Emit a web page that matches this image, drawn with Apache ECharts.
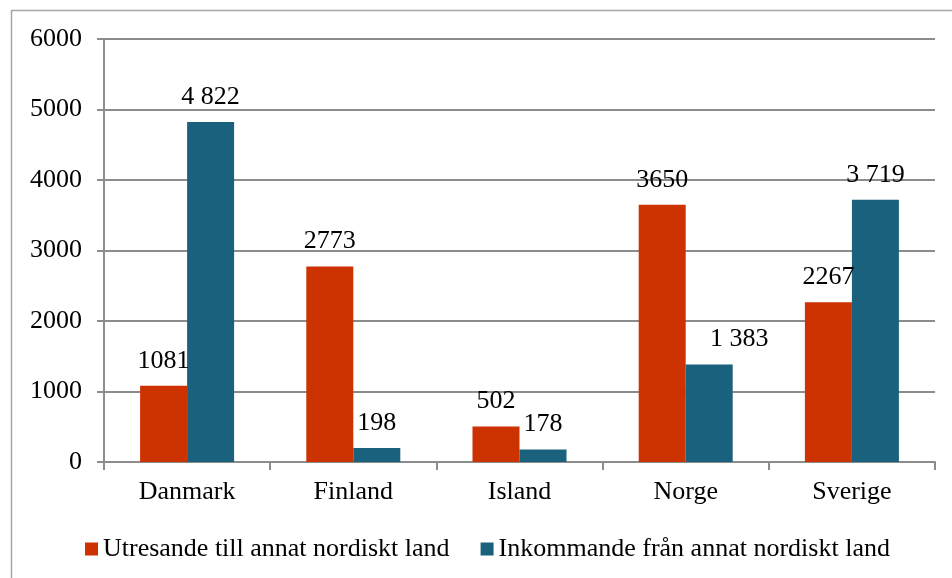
<!DOCTYPE html>
<html>
<head>
<meta charset="utf-8">
<script src="https://cdn.jsdelivr.net/npm/echarts@6/dist/echarts.min.js"></script>
<style>html,body{margin:0;padding:0;background:#fff}#c{width:952px;height:578px}</style>
</head>
<body>
<div id="c"></div>
<script>
const categories = ['Danmark', 'Finland', 'Island', 'Norge', 'Sverige'];
const seriesNames = ['Utresande till annat nordiskt land', 'Inkommande från annat nordiskt land'];
const utresande = [1081, 2773, 502, 3650, 2267];
const inkommande = [4822, 198, 178, 1383, 3719];
const yTicks = { min: 0, max: 6000, interval: 1000 };

const FONT = "'Liberation Serif', 'Times New Roman', serif";
const fmtSpace = v => { const s = String(v); return s.length > 3 ? s.slice(0, s.length - 3) + ' ' + s.slice(-3) : s; };

const chart = echarts.init(document.getElementById('c'), null, { renderer: 'canvas' });
chart.setOption({
  backgroundColor: '#fff',
  animation: false,
  graphic: [{
    type: 'rect', left: 9, top: 8, shape: { x: 0, y: 0, width: 960, height: 600 },
    style: { fill: 'none', stroke: '#a6a6a6', lineWidth: 1.5 }, z: -1
  }],
  grid: { left: 104, right: 17, top: 39, bottom: 116 },
  legend: {
    left: 80, top: 531, itemWidth: 13, itemHeight: 13, itemGap: 31,
    icon: 'rect',
    textStyle: { fontFamily: FONT, fontSize: 26, color: '#000' },
    data: seriesNames
  },
  xAxis: {
    type: 'category', data: categories,
    axisLine: { lineStyle: { color: '#8c8c8c', width: 2 } },
    axisTick: { show: true, length: 8, lineStyle: { color: '#8c8c8c', width: 2 } },
    axisLabel: { fontFamily: FONT, fontSize: 26, color: '#000', margin: 17 }
  },
  yAxis: {
    type: 'value', min: yTicks.min, max: yTicks.max, interval: yTicks.interval,
    axisLine: { show: true, lineStyle: { color: '#8c8c8c', width: 2 } },
    axisTick: { show: true, length: 7, lineStyle: { color: '#8c8c8c', width: 2 } },
    splitLine: { lineStyle: { color: '#8c8c8c', width: 2 } },
    axisLabel: { fontFamily: FONT, fontSize: 26, color: '#000', margin: 22, formatter: v => String(v) }
  },
  series: [
    {
      name: seriesNames[0], type: 'bar', data: utresande, barWidth: 47, barGap: '0%',
      itemStyle: { color: '#cc3300' },
      label: { show: true, position: 'top', distance: 12, fontFamily: FONT, fontSize: 26, color: '#000' }
    },
    {
      name: seriesNames[1], type: 'bar',
      data: inkommande.map((v, i) => i === 3 ? { value: v, label: { offset: [30, 0] } } : v),
      barWidth: 47,
      itemStyle: { color: '#1a617d' },
      label: { show: true, position: 'top', distance: 12, fontFamily: FONT, fontSize: 26, color: '#000',
        formatter: p => fmtSpace(p.value) }
    }
  ]
});
</script>
</body>
</html>
